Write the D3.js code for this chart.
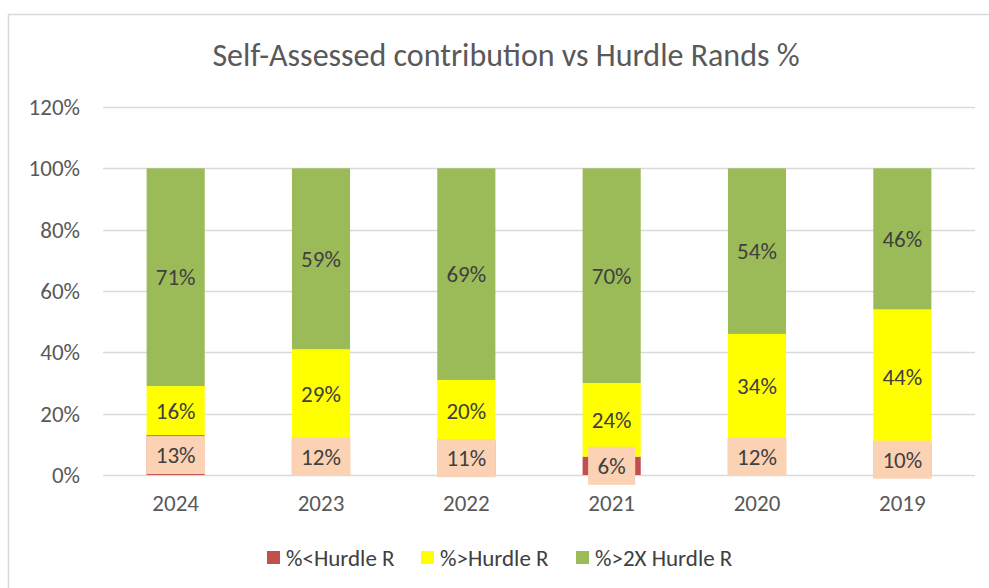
<!DOCTYPE html>
<html>
<head>
<meta charset="utf-8">
<script src="https://cdn.jsdelivr.net/npm/d3@7"></script>
<style>
  body { margin: 0; background: #fff; }
  text { font-family: Carlito, "Open Sans", "Noto Sans", sans-serif; }
</style>
</head>
<body>
<div id="chart"></div>
<script>
var years = ["2024", "2023", "2022", "2021", "2020", "2019"];
var below = [13, 12, 11, 6, 12, 10];
var above = [16, 29, 20, 24, 34, 44];
var double = [71, 59, 69, 70, 54, 46];
var seriesNames = ["%<Hurdle R", "%>Hurdle R", "%>2X Hurdle R"];
var yTicks = [0, 20, 40, 60, 80, 100, 120];

function draw_chart() {
    var W = 989, H = 588;
    var margin = {top: 107, right: 14, bottom: 113, left: 103},
        width = W - margin.left - margin.right,
        height = H - margin.top - margin.bottom;

    var colors = ["#C0504D", "#FFFF00", "#9BBB59"];
    var txtColor = "#595959";
    var fs = 23;

    var rows = years.map(function(y, i) {
        return {year: y, s0: below[i], s1: above[i], s2: double[i]};
    });
    var stack = d3.stack().keys(["s0", "s1", "s2"])(rows);

    var x = d3.scaleBand().domain(years).range([0, width]).paddingInner(0.6).paddingOuter(0.3);
    var y = d3.scaleLinear().domain([0, 120]).range([height, 0]);

    var svg = d3.select("#chart").append("svg")
        .attr("width", W).attr("height", H);

    // chart border
    svg.append("rect")
        .attr("x", 8.5).attr("y", 14.5)
        .attr("width", W + 20).attr("height", H + 20)
        .attr("fill", "none").attr("stroke", "#D9D9D9").attr("stroke-width", 1.5);

    svg.append("text")
        .attr("x", 506).attr("y", 66)
        .attr("text-anchor", "middle")
        .attr("font-size", 32)
        .attr("fill", txtColor)
        .text("Self-Assessed contribution vs Hurdle Rands %");

    var g = svg.append("g").attr("transform", "translate(" + margin.left + "," + margin.top + ")");

    // grid
    g.append("g").selectAll("line").data(yTicks).enter().append("line")
        .attr("x1", 0).attr("x2", width)
        .attr("y1", function(d) { return Math.round(y(d)) + 0.5; })
        .attr("y2", function(d) { return Math.round(y(d)) + 0.5; })
        .attr("stroke", "#D9D9D9").attr("stroke-width", 1.3);

    var yAxis = d3.axisLeft(y).tickValues(yTicks).tickSize(0).tickPadding(23)
        .tickFormat(function(d) { return d + "%"; });
    var ya = g.append("g").call(yAxis);
    ya.select(".domain").remove();
    ya.selectAll("text").attr("font-size", fs).attr("fill", txtColor)
        .style("font-family", "Carlito, 'Open Sans', 'Noto Sans', sans-serif");

    var xAxis = d3.axisBottom(x).tickSize(0).tickPadding(20);
    var xa = g.append("g").attr("transform", "translate(0," + height + ")").call(xAxis);
    xa.select(".domain").remove();
    xa.selectAll("text").attr("font-size", fs).attr("fill", txtColor)
        .style("font-family", "Carlito, 'Open Sans', 'Noto Sans', sans-serif");

    // bars
    var layers = g.selectAll(".layer").data(stack).enter().append("g")
        .attr("fill", function(d, i) { return colors[i]; });
    layers.selectAll("rect").data(function(d) { return d; }).enter().append("rect")
        .attr("x", function(d) { return x(d.data.year); })
        .attr("width", x.bandwidth())
        .attr("y", function(d) { return y(d[1]); })
        .attr("height", function(d) { return y(d[0]) - y(d[1]); });

    // labels
    stack.forEach(function(layer, li) {
        layer.forEach(function(d) {
            var v = d[1] - d[0];
            var cx = x(d.data.year) + x.bandwidth() / 2;
            var cy = (y(d[0]) + y(d[1])) / 2;
            var t = g.append("text")
                .attr("x", cx).attr("y", cy)
                .attr("dy", "0.35em")
                .attr("text-anchor", "middle")
                .attr("font-size", fs)
                .attr("fill", "#404040")
                .text(v + "%");
            if (li === 0) {
                var bw = t.node().getComputedTextLength() + 19;
                g.insert("rect", function() { return t.node(); })
                    .attr("x", cx - bw / 2).attr("y", cy - 19)
                    .attr("width", bw).attr("height", 38)
                    .attr("fill", "#FBD2B3");
            }
        });
    });

    // legend
    var legX = [267, 421, 576];
    var leg = svg.append("g").selectAll("g").data(seriesNames).enter().append("g")
        .attr("transform", function(d, i) { return "translate(" + legX[i] + ",551)"; });
    leg.append("rect").attr("width", 13).attr("height", 13)
        .attr("fill", function(d, i) { return colors[i]; });
    leg.append("text").attr("x", 19).attr("y", 7).attr("dy", "0.35em")
        .attr("font-size", fs).attr("fill", "#404040")
        .text(function(d) { return d; });
}
draw_chart();
</script>
</body>
</html>
